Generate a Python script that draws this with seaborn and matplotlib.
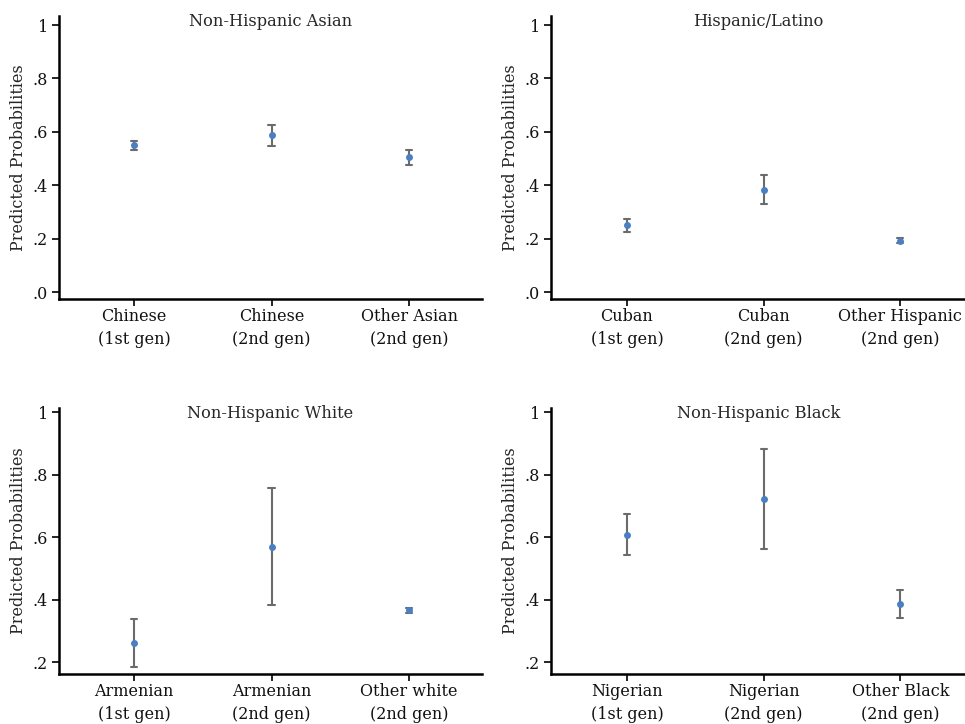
import matplotlib
matplotlib.use("Agg")
import matplotlib.pyplot as plt
import seaborn as sns
import pandas as pd

sns.set_theme(style="white")
plt.rcParams["font.family"] = ["DejaVu Serif"]

# Predicted probabilities with 95% confidence bounds, one panel per group
asian_labels = ["Chinese\n(1st gen)", "Chinese\n(2nd gen)", "Other Asian\n(2nd gen)"]
asian_est = [0.549, 0.587, 0.505]
asian_lo = [0.532, 0.548, 0.477]
asian_hi = [0.567, 0.626, 0.532]

hisp_labels = ["Cuban\n(1st gen)", "Cuban\n(2nd gen)", "Other Hispanic\n(2nd gen)"]
hisp_est = [0.250, 0.384, 0.192]
hisp_lo = [0.226, 0.331, 0.184]
hisp_hi = [0.275, 0.437, 0.201]

white_labels = ["Armenian\n(1st gen)", "Armenian\n(2nd gen)", "Other white\n(2nd gen)"]
white_est = [0.262, 0.570, 0.366]
white_lo = [0.185, 0.382, 0.356]
white_hi = [0.338, 0.757, 0.375]

black_labels = ["Nigerian\n(1st gen)", "Nigerian\n(2nd gen)", "Other Black\n(2nd gen)"]
black_est = [0.607, 0.722, 0.387]
black_lo = [0.544, 0.563, 0.341]
black_hi = [0.673, 0.882, 0.431]

titles = ["Non-Hispanic Asian", "Hispanic/Latino", "Non-Hispanic White", "Non-Hispanic Black"]
y_ticks_top = [0, 0.2, 0.4, 0.6, 0.8, 1.0]
y_ticklabels_top = [".0", ".2", ".4", ".6", ".8", "1"]
y_ticks_bottom = [0.2, 0.4, 0.6, 0.8, 1.0]
y_ticklabels_bottom = [".2", ".4", ".6", ".8", "1"]

POINT = "#4a7fc1"
ERR = "#6b6b6b"

fig = plt.figure(figsize=(9.65, 7.24), dpi=100)
W, H = 965, 724


def axes_px(x0, x1, y0, y1):
    return fig.add_axes([x0 / W, 1 - y1 / H, (x1 - x0) / W, (y1 - y0) / H])


panels = [
    (axes_px(59, 482, 16, 299), asian_labels, asian_est, asian_lo, asian_hi,
     (-0.026, 1.034), y_ticks_top, y_ticklabels_top, (-0.545, 2.53)),
    (axes_px(551, 966, 16, 299), hisp_labels, hisp_est, hisp_lo, hisp_hi,
     (-0.026, 1.034), y_ticks_top, y_ticklabels_top, (-0.555, 2.48)),
    (axes_px(59, 482, 408, 674), white_labels, white_est, white_lo, white_hi,
     (0.162, 1.014), y_ticks_bottom, y_ticklabels_bottom, (-0.545, 2.53)),
    (axes_px(551, 966, 408, 674), black_labels, black_est, black_lo, black_hi,
     (0.162, 1.014), y_ticks_bottom, y_ticklabels_bottom, (-0.555, 2.48)),
]

for (ax, labels, est, lo, hi, ylim, yt, ytl, xlim), title in zip(panels, titles):
    # long-form rows: lower bound, estimate, upper bound per category;
    # median gives the estimate, the full-range interval gives the bounds
    df = pd.DataFrame({
        "group": labels * 3,
        "value": lo + est + hi,
    })
    sns.pointplot(data=df, x="group", y="value", order=labels,
                  estimator="median", errorbar=("pi", 100),
                  color=POINT, linestyle="none", marker="o", markersize=5,
                  markeredgewidth=0, capsize=0.045,
                  err_kws={"color": ERR, "linewidth": 1.5, "zorder": 1},
                  ax=ax)
    for ln in ax.lines:
        if ln.get_marker() == "o":
            ln.set_zorder(3)
    ax.set_xlim(*xlim)
    ax.set_ylim(*ylim)
    ax.set_yticks(yt)
    ax.set_yticklabels(ytl)
    for t in ax.get_xticklabels():
        t.set_linespacing(1.45)
    ax.set_xlabel("")
    ax.set_ylabel("Predicted Probabilities", fontsize=11.5, labelpad=4)
    ax.text(0.5, 0.98, title, transform=ax.transAxes, ha="center", va="center",
            fontsize=11.7)
    sns.despine(ax=ax)
    for side in ("left", "bottom"):
        ax.spines[side].set_color("black")
        ax.spines[side].set_linewidth(1.8)
    ax.tick_params(axis="both", which="major", length=5, width=1.2, color="black",
                   labelsize=11.5, labelcolor="#111111", left=True, bottom=True, pad=3)
    ax.tick_params(axis="x", pad=1.5)
    ax.grid(False)

fig.savefig("out.png", dpi=100)
